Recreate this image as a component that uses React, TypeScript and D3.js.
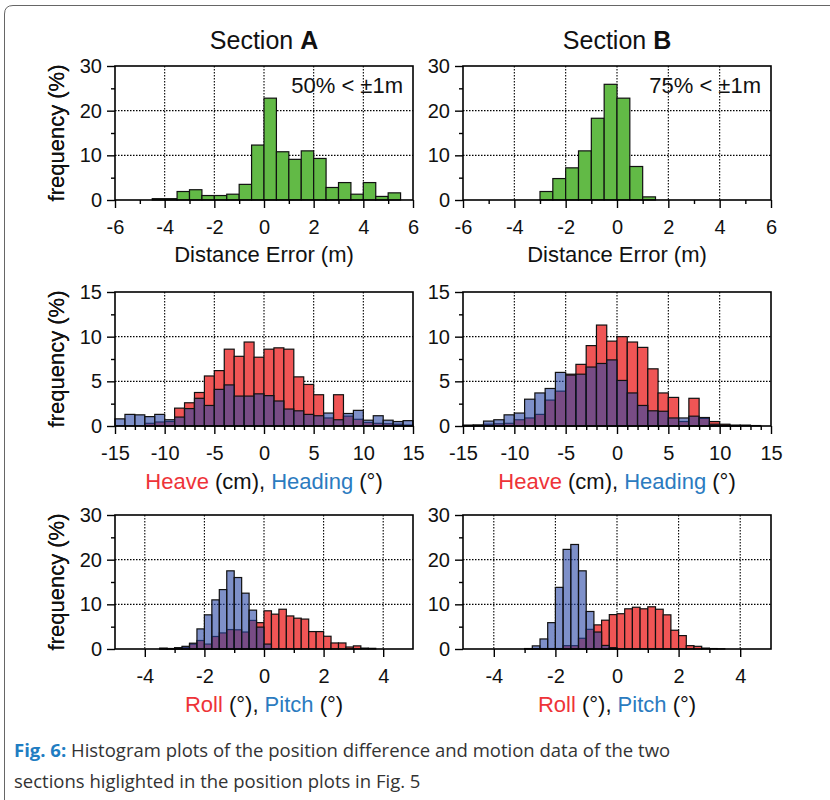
import React, { useEffect, useRef } from 'react';
import * as d3 from 'd3';

// distance error histograms, 0.5 m bins starting at -6 m
const distStart = -6;
const distBin = 0.5;
const distA = [0, 0, 0, 0.3, 0.3, 1.9, 2.3, 1.0, 1.0, 1.3, 3.5, 12.3, 22.8, 10.8, 9.1, 11.0, 9.3, 2.8, 3.9, 1.3, 3.9, 0.8, 1.6, 0];
const distB = [0, 0, 0, 0, 0, 0, 1.9, 4.8, 7.2, 11.0, 18.3, 25.9, 22.8, 7.5, 0.7, 0, 0, 0, 0, 0, 0, 0, 0, 0];
const distTicks = [-6, -4, -2, 0, 2, 4, 6];

// heave (cm) / heading (deg), 1 unit bins starting at -15
const motStart = -15;
const motBin = 1;
const heaveA = [0, 0, 0, 0.3, 0.45, 0.5, 2.0, 2.6, 3.75, 5.6, 6.2, 8.6, 7.8, 9.4, 7.7, 8.6, 8.75, 8.6, 5.5, 4.65, 3.5, 0.9, 3.5, 1.1, 0.75, 0.4, 0.3, 0.25, 0.2, 0.1];
const headingA = [0.8, 1.3, 1.25, 1.05, 1.3, 0.7, 1.0, 1.95, 3.1, 2.3, 4.1, 4.6, 3.35, 3.35, 3.6, 3.4, 2.8, 1.9, 1.7, 1.3, 1.15, 1.45, 0.7, 1.4, 1.75, 0.65, 1.15, 0.65, 0.5, 0.6];
const heaveB = [0.1, 0.1, 0.2, 0.25, 0.3, 0.7, 0.9, 1.3, 2.9, 3.9, 5.8, 6.9, 9.0, 11.3, 9.5, 10.0, 9.4, 8.8, 6.4, 3.7, 3.2, 0.5, 3.1, 0.85, 0.5, 0.2, 0.1, 0.1, 0.05, 0];
const headingB = [0.05, 0.1, 0.55, 0.7, 1.25, 1.45, 3.0, 3.7, 4.2, 6.0, 5.7, 5.8, 6.6, 7.0, 7.4, 5.1, 3.7, 2.3, 1.7, 1.65, 0.9, 0.9, 1.1, 0.95, 0.2, 0.1, 0.05, 0, 0, 0];
const motTicks = [-15, -10, -5, 0, 5, 10, 15];

// roll / pitch (deg), 0.25 deg bins starting at -5
const angStart = -5;
const angBin = 0.25;
const rollA = [0, 0, 0, 0, 0, 0, 0.1, 0.1, 0.2, 0.4, 1.1, 1.9, 1.1, 2.8, 3.6, 4.35, 4.3, 3.8, 6.4, 5.9, 8.55, 7.8, 8.9, 7.4, 6.9, 6.7, 3.9, 3.9, 2.85, 1.35, 1.35, 0.45, 0.7, 0.2, 0.15, 0, 0, 0, 0, 0];
const pitchA = [0, 0, 0, 0, 0, 0, 0.2, 0.1, 0.3, 0.6, 1.3, 4.5, 7.65, 11.0, 13.3, 17.5, 16.0, 12.5, 8.7, 4.9, 1.1, 0, 0, 0, 0, 0, 0, 0, 0, 0, 0, 0, 0, 0, 0, 0, 0, 0, 0, 0];
const rollB = [0, 0, 0, 0, 0, 0, 0, 0, 0.05, 0.1, 0.1, 0.1, 0.1, 0.75, 0.75, 2.4, 4.4, 5.4, 6.45, 7.7, 7.9, 9.0, 9.35, 9.0, 9.45, 8.9, 7.65, 4.2, 3.0, 0.75, 0.6, 0.2, 0.1, 0.05, 0, 0, 0, 0, 0, 0];
const pitchB = [0, 0, 0, 0, 0, 0, 0, 0, 0.1, 0.7, 2.25, 5.9, 13.8, 22.3, 23.4, 17.5, 8.4, 3.8, 0.8, 0.3, 0, 0, 0, 0, 0, 0, 0, 0, 0, 0, 0, 0, 0, 0, 0, 0, 0, 0, 0, 0];
const angTicks = [-4, -2, 0, 2, 4];

const sections = ['A', 'B'];
const notes = ['50% < \u00b11m', '75% < \u00b11m'];

const GREEN = '#62ba46';
const RED = '#f05555';
const BLUE = 'rgb(40,70,165)';
const RED_TXT = '#ee3338';
const BLUE_TXT = '#2b7bbf';
const FONT = 'Liberation Sans, Arial, sans-serif';

// plain hyphen minus like the original figure
const fmt = (d) => String(d);

function drawPanel(svg, cfg) {
    const { x0, x1, y0, y1, xDomain, yMax, series, start, bin, xTicks, xMinor, xGrid, yTicks, yMinor, yGrid } = cfg;
    const x = d3.scaleLinear().domain(xDomain).range([x0, x1]);
    const y = d3.scaleLinear().domain([0, yMax]).range([y1, y0]);
    const g = svg.append('g');

    // dotted grid
    g.selectAll('.gx').data(xGrid).enter().append('line')
        .attr('x1', (d) => x(d)).attr('x2', (d) => x(d))
        .attr('y1', y0).attr('y2', y1)
        .attr('stroke', '#000').attr('stroke-width', 1.1).attr('stroke-dasharray', '1.5,1.5');
    g.selectAll('.gy').data(yGrid).enter().append('line')
        .attr('x1', x0).attr('x2', x1)
        .attr('y1', (d) => y(d)).attr('y2', (d) => y(d))
        .attr('stroke', '#000').attr('stroke-width', 1.1).attr('stroke-dasharray', '1.5,1.5');

    // bars, first series opaque, second on top semi-transparent
    series.forEach((s) => {
        const bars = s.values.map((v, i) => ({ v, lo: start + i * bin, hi: start + (i + 1) * bin }))
            .filter((b) => b.v > 0);
        g.append('g').selectAll('rect').data(bars).enter().append('rect')
            .attr('x', (d) => x(d.lo))
            .attr('width', (d) => x(d.hi) - x(d.lo))
            .attr('y', (d) => y(d.v))
            .attr('height', (d) => y(0) - y(d.v))
            .attr('fill', s.color)
            .attr('fill-opacity', s.opacity)
            .attr('stroke', '#111')
            .attr('stroke-width', 1.2);
    });

    // frame
    g.append('rect')
        .attr('x', x0).attr('y', y0).attr('width', x1 - x0).attr('height', y1 - y0)
        .attr('fill', 'none').attr('stroke', '#000').attr('stroke-width', 1.6);

    // axes
    const styleAxis = (sel) => {
        sel.select('.domain').remove();
        sel.selectAll('line').attr('stroke', '#000').attr('stroke-width', 1.4);
        sel.selectAll('text').attr('fill', '#111').style('font-size', '20px').style('font-family', FONT);
    };
    g.append('g').attr('transform', `translate(0,${y1})`)
        .call(d3.axisBottom(x).tickValues(xTicks).tickSize(8).tickPadding(12).tickFormat(fmt))
        .call(styleAxis);
    g.append('g').attr('transform', `translate(0,${y1})`)
        .call(d3.axisBottom(x).tickValues(xMinor).tickSize(4).tickFormat(() => ''))
        .call(styleAxis);
    g.append('g').attr('transform', `translate(${x0},0)`)
        .call(d3.axisLeft(y).tickValues(yTicks).tickSize(8).tickPadding(5).tickFormat(fmt))
        .call(styleAxis);
    g.append('g').attr('transform', `translate(${x0},0)`)
        .call(d3.axisLeft(y).tickValues(yMinor).tickSize(4).tickFormat(() => ''))
        .call(styleAxis);

    // y label
    g.append('text')
        .attr('transform', `translate(64,${(y0 + y1) / 2}) rotate(-90)`)
        .attr('text-anchor', 'middle')
        .style('font-size', '22px').style('font-family', FONT).attr('fill', '#111')
        .text('frequency (%)');

    return { x, y, g };
}

function addLabel(g, cx, cy, parts) {
    const t = g.append('text')
        .attr('x', cx).attr('y', cy)
        .attr('text-anchor', 'middle')
        .style('font-size', '22px').style('font-family', FONT);
    parts.forEach((p) => t.append('tspan').attr('fill', p[1]).text(p[0]));
}

function App() {
    const ref = useRef(null);

    useEffect(() => {
        const svg = d3.select(ref.current);
        svg.selectAll('*').remove();

        svg.append('rect').attr('width', 830).attr('height', 800).attr('fill', '#fff');
        // figure frame with rounded corner
        svg.append('path')
            .attr('d', 'M4.5,800 L4.5,14 Q4.5,5.5 13,5.5 L830,5.5')
            .attr('fill', 'none').attr('stroke', '#666').attr('stroke-width', 1);

        const cols = [[115, 413], [463, 771]];
        const rows = [[66, 200], [292, 426], [515, 649]];
        const distData = [distA, distB];
        const heave = [heaveA, heaveB];
        const heading = [headingA, headingB];
        const roll = [rollA, rollB];
        const pitch = [pitchA, pitchB];

        cols.forEach(([x0, x1], c) => {
            const cx = (x0 + x1) / 2;
            svg.append('text')
                .attr('x', cx).attr('y', 49).attr('text-anchor', 'middle')
                .style('font-size', '25px').style('font-family', FONT).attr('fill', '#111')
                .call((t) => {
                    t.append('tspan').text('Section ');
                    t.append('tspan').attr('font-weight', 'bold').text(sections[c]);
                });

            // row 1: distance error
            const p1 = drawPanel(svg, {
                x0, x1, y0: rows[0][0], y1: rows[0][1],
                xDomain: [-6, 6], yMax: 30,
                series: [{ values: distData[c], color: GREEN, opacity: 1 }],
                start: distStart, bin: distBin,
                xTicks: distTicks, xMinor: [-5, -3, -1, 1, 3, 5], xGrid: [-4, -2, 0, 2, 4],
                yTicks: [0, 10, 20, 30], yMinor: [5, 15, 25], yGrid: [10, 20],
            });
            p1.g.append('text')
                .attr('x', x1 - 10).attr('y', 93).attr('text-anchor', 'end')
                .style('font-size', '22px').style('font-family', FONT).attr('fill', '#111')
                .text(notes[c]);
            addLabel(p1.g, cx, 262, [['Distance Error (m)', '#111']]);

            // row 2: heave / heading
            const p2 = drawPanel(svg, {
                x0, x1, y0: rows[1][0], y1: rows[1][1],
                xDomain: [-15, 15], yMax: 15,
                series: [
                    { values: heave[c], color: RED, opacity: 1 },
                    { values: heading[c], color: BLUE, opacity: 0.6 },
                ],
                start: motStart, bin: motBin,
                xTicks: motTicks, xMinor: d3.range(-14, 15).filter((v) => v % 5 !== 0), xGrid: [-10, -5, 0, 5, 10],
                yTicks: [0, 5, 10, 15], yMinor: [2.5, 7.5, 12.5], yGrid: [5, 10],
            });
            addLabel(p2.g, cx, 489, [['Heave', RED_TXT], [' (cm), ', '#111'], ['Heading', BLUE_TXT], [' (\u00b0)', '#111']]);

            // row 3: roll / pitch
            const p3 = drawPanel(svg, {
                x0, x1, y0: rows[2][0], y1: rows[2][1],
                xDomain: [-5, 5], yMax: 30,
                series: [
                    { values: roll[c], color: RED, opacity: 1 },
                    { values: pitch[c], color: BLUE, opacity: 0.6 },
                ],
                start: angStart, bin: angBin,
                xTicks: angTicks, xMinor: [-3, -1, 1, 3], xGrid: [-4, -2, 0, 2, 4],
                yTicks: [0, 10, 20, 30], yMinor: [5, 15, 25], yGrid: [10, 20],
            });
            addLabel(p3.g, cx, 712, [['Roll', RED_TXT], [' (\u00b0), ', '#111'], ['Pitch', BLUE_TXT], [' (\u00b0)', '#111']]);
        });

        // caption
        const cap = svg.append('g').style('font-family', 'Open Sans, Noto Sans, sans-serif').style('font-size', '18.5px');
        const l1 = cap.append('text').attr('x', 14).attr('y', 757).attr('fill', '#333');
        l1.append('tspan').attr('fill', '#1f7dc2').attr('font-weight', 'bold').text('Fig. 6:');
        l1.append('tspan').text(' Histogram plots of the position difference and motion data of the two');
        cap.append('text').attr('x', 14).attr('y', 788).attr('fill', '#333')
            .text('sections higlighted in the position plots in Fig. 5');
    }, []);

    return (
        <svg ref={ref} width={830} height={800}
            style={{ position: 'absolute', left: 0, top: 0, display: 'block' }} />
    );
}

export default App;
